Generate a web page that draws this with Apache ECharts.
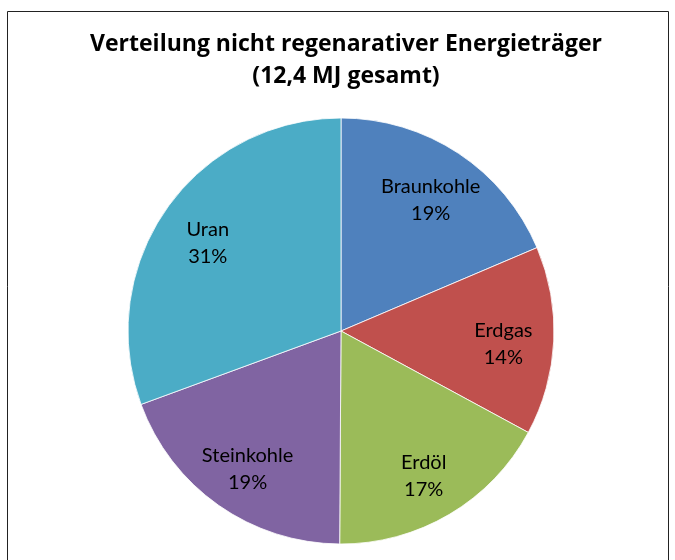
<!DOCTYPE html>
<html>
<head>
<meta charset="utf-8">
<script src="https://cdn.jsdelivr.net/npm/echarts@6/dist/echarts.min.js"></script>
<style>
  html, body { margin: 0; padding: 0; background: #fff; }
  #chart { width: 675px; height: 560px; }
</style>
</head>
<body>
<div id="chart"></div>
<script>
// Anteile in Prozent, im Uhrzeigersinn ab 12 Uhr
var categories = ['Braunkohle', 'Erdgas', 'Erdöl', 'Steinkohle', 'Uran'];
var shares = [18.6, 14.3, 17.2, 19.3, 30.6];
var colors = ['#4F81BD', '#C0504D', '#9BBB59', '#8064A2', '#4BACC6'];

var pieData = categories.map(function (name, i) {
    return { name: name, value: shares[i], itemStyle: { color: colors[i] } };
});

var chart = echarts.init(document.getElementById('chart'));
chart.setOption({
    animation: false,
    title: {
        text: 'Verteilung nicht regenarativer Energieträger\n(12,4 MJ gesamt)',
        left: 341,
        textAlign: 'center',
        top: 23,
        textStyle: {
            fontFamily: 'Open Sans',
            fontWeight: 'bold',
            fontSize: 23,
            lineHeight: 32,
            color: '#000'
        }
    },
    graphic: [{
        type: 'rect',
        shape: { x: 7.5, y: 11.5, width: 661, height: 560 },
        style: { fill: null, stroke: '#222', lineWidth: 1 },
        silent: true
    }],
    series: [{
        type: 'pie',
        center: [341, 331],
        radius: [0, 213],
        startAngle: 90,
        clockwise: true,
        label: { show: false },
        labelLine: { show: false },
        itemStyle: { borderColor: '#fff', borderWidth: 0.8 },
        data: pieData
    }, {
        // unsichtbarer Ring, nur für die Beschriftung weiter außen
        type: 'pie',
        center: [341, 331],
        radius: [106, 213],
        startAngle: 90,
        clockwise: true,
        silent: true,
        itemStyle: { color: 'rgba(0,0,0,0)' },
        label: {
            show: true,
            position: 'inside',
            fontFamily: 'Lato',
            fontSize: 20,
            lineHeight: 27,
            offset: [0, 5],
            color: '#000',
            formatter: function (p) {
                return p.name + '\n' + Math.round(p.value) + '%';
            }
        },
        labelLine: { show: false },
        data: categories.map(function (name, i) {
            return { name: name, value: shares[i] };
        })
    }]
});
</script>
</body>
</html>
